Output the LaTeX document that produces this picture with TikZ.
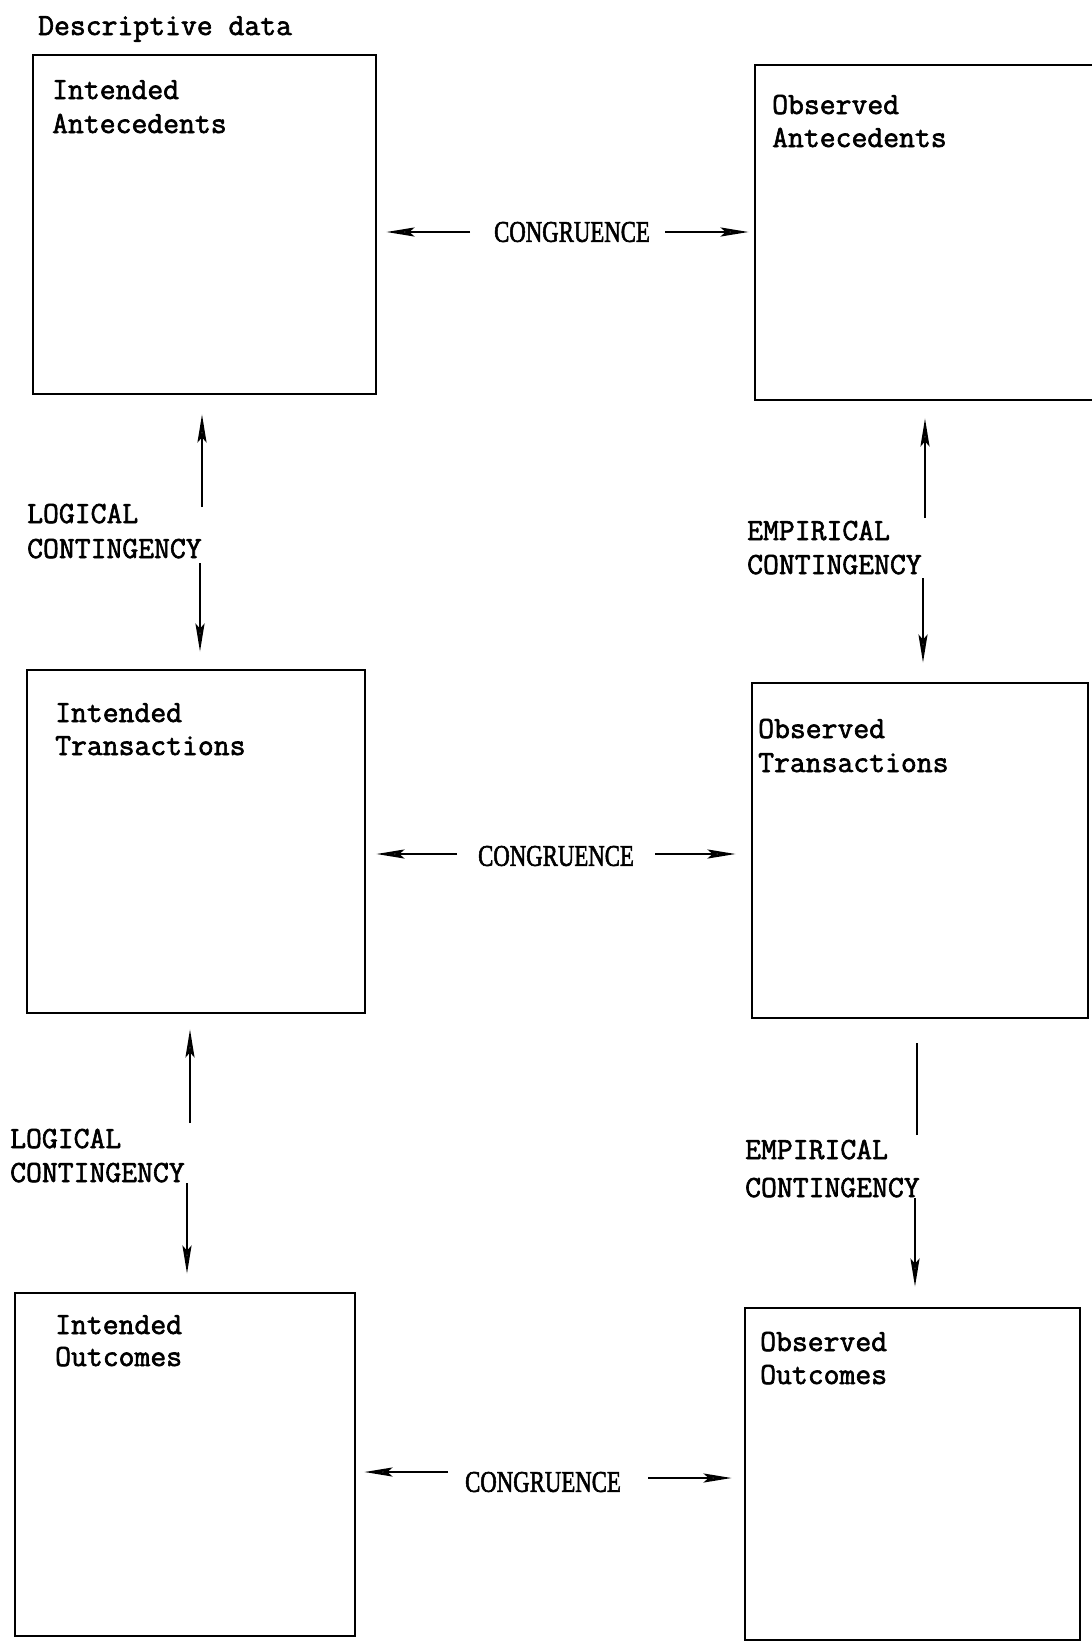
\documentclass[tikz,border=0pt]{standalone}
\usepackage{fontspec}
\usepackage{graphicx}
\setmainfont{Liberation Serif}
\newfontfamily\tw[FakeBold=2]{Latin Modern Mono}
\newfontfamily\cg[FakeBold=2.2]{Liberation Serif}
\usetikzlibrary{arrows.meta}
\begin{document}
\begin{tikzpicture}[x=1pt,y=-1pt,
  box/.style={draw, line width=2.8pt, inner sep=0pt},
  lbl/.style={anchor=base west, inner sep=0pt, font=\tw\fontsize{30.8}{34}\selectfont},
  cong/.style={inner sep=0pt, font=\cg\fontsize{30}{30}\selectfont},
  arr/.style={line width=2.6pt, -{Stealth[length=28pt,width=9pt,inset=5pt,fill=black!45]}},
  plainline/.style={line width=2.6pt}]
\useasboundingbox (0,0) rectangle (1092,1647);
\clip (0,0) rectangle (1092,1647);
\fill[white] (0,0) rectangle (1092,1647);

% title
\node[lbl] (title) at (38,35) {Descriptive data};

% boxes
\node[box, minimum width=343pt, minimum height=339pt] (IA) at (204.5,224.5) {};
\node[box, minimum width=365pt, minimum height=335pt] (OA) at (937.5,232.5) {};
\node[box, minimum width=338pt, minimum height=343pt] (IT) at (196,841.5) {};
\node[box, minimum width=336pt, minimum height=335pt] (OT) at (920,850.5) {};
\node[box, minimum width=340pt, minimum height=343pt] (IO) at (185,1464.5) {};
\node[box, minimum width=335pt, minimum height=332pt] (OO) at (912.5,1474) {};

% box labels
\node[lbl] (IAa) at (52,99) {Intended};
\node[lbl] (IAb) at (52,133) {Antecedents};
\node[lbl] (OAa) at (772,114) {Observed};
\node[lbl] (OAb) at (772,147) {Antecedents};
\node[lbl] (ITa) at (55,722) {Intended};
\node[lbl] (ITb) at (55,755) {Transactions};
\node[lbl] (OTa) at (758,738) {Observed};
\node[lbl] (OTb) at (758,772) {Transactions};
\node[lbl] (IOa) at (55,1334) {Intended};
\node[lbl] (IOb) at (55,1366) {Outcomes};
\node[lbl] (OOa) at (760,1351) {Observed};
\node[lbl] (OOb) at (760,1384) {Outcomes};

% contingency labels
\node[lbl] (L1a) at (27,523) {LOGICAL};
\node[lbl] (L1b) at (27,558) {CONTINGENCY};
\node[lbl] (E1a) at (747,540) {EMPIRICAL};
\node[lbl] (E1b) at (747,574) {CONTINGENCY};
\node[lbl] (L2a) at (10,1148) {LOGICAL};
\node[lbl] (L2b) at (10,1182) {CONTINGENCY};
\node[lbl] (E2a) at (745,1159) {EMPIRICAL};
\node[lbl] (E2b) at (745,1197) {CONTINGENCY};

% congruence labels
\node[cong] (C1) at (572,232) {\scalebox{0.76}[1]{CONGRUENCE}};
\node[cong] (C2) at (556,856) {\scalebox{0.76}[1]{CONGRUENCE}};
\node[cong] (C3) at (543,1482) {\scalebox{0.76}[1]{CONGRUENCE}};

% congruence arrows
\coordinate (a1l) at (470,232);
\coordinate (a1r) at (665,232);
\coordinate (a2l) at (457,854);
\coordinate (a2r) at (655,854);
\coordinate (a3l) at (448,1472);
\coordinate (a3r) at (648,1478);
\draw[arr, shorten >=9pt] (a1l) -- (a1l -| IA.east);
\draw[arr, shorten >=5pt] (a1r) -- (a1r -| OA.west);
\draw[arr, shorten >=10pt] (a2l) -- (a2l -| IT.east);
\draw[arr, shorten >=15pt] (a2r) -- (a2r -| OT.west);
\draw[arr, shorten >=8pt] (a3l) -- (a3l -| IO.east);
\draw[arr, shorten >=12pt] (a3r) -- (a3r -| OO.west);

% contingency arrows
\coordinate (v1u) at (202,507);
\coordinate (v1d) at (200,563);
\coordinate (v2u) at (925,518);
\coordinate (v2d) at (923,578);
\coordinate (v3u) at (190,1123);
\coordinate (v3d) at (187,1183);
\coordinate (v4u) at (917,1135);
\coordinate (v4d) at (915,1198);
\draw[arr, shorten >=19pt] (v1u) -- (v1u |- IA.south);
\draw[arr, shorten >=17pt] (v1d) -- (v1d |- IT.north);
\draw[arr, shorten >=17pt] (v2u) -- (v2u |- OA.south);
\draw[arr, shorten >=19pt] (v2d) -- (v2d |- OT.north);
\draw[arr, shorten >=15pt] (v3u) -- (v3u |- IT.south);
\draw[arr, shorten >=18pt] (v3d) -- (v3d |- IO.north);
\draw[plainline, shorten >=24pt] (v4u) -- (v4u |- OT.south);
\draw[arr, shorten >=20pt] (v4d) -- (v4d |- OO.north);
\end{tikzpicture}
\end{document}
